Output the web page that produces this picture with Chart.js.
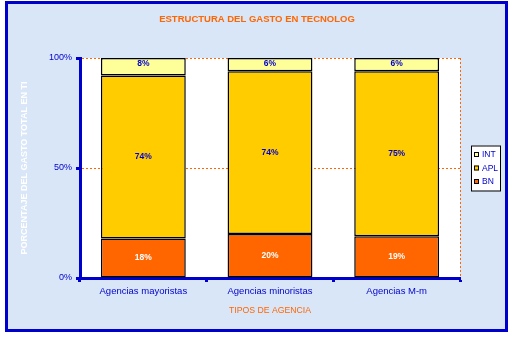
<!DOCTYPE html>
<html><head><meta charset="utf-8">
<script src="https://cdn.jsdelivr.net/npm/chart.js@4/dist/chart.umd.min.js"></script>
<style>html,body{margin:0;padding:0;background:#fff}#wrap{width:514px;height:338px}</style>
</head><body><div id="wrap"><canvas id="c" width="514" height="338"></canvas></div>
<script>
const categories = ['Agencias mayoristas', 'Agencias minoristas', 'Agencias M-m'];
const seriesNames = ['BN', 'APL', 'INT'];
const bnValues = [18, 20, 19];
const aplValues = [74, 74, 75];
const intValues = [8, 6, 6];
const yTickValues = [0, 50, 100];
const chartTitle = 'ESTRUCTURA DEL GASTO EN TECNOLOG';
const xTitle = 'TIPOS DE AGENCIA';
const yTitle = 'PORCENTAJE DEL GASTO TOTAL EN TI';

const BLUE = '#0000CC', ORANGE = '#FF6600';
const FONT = "'Liberation Sans', Arial, sans-serif";

const bgPlugin = {
  id: 'bg',
  beforeDraw(chart) {
    const c = chart.ctx, a = chart.chartArea;
    c.save();
    c.fillStyle = '#ffffff';
    c.fillRect(0, 0, chart.width, chart.height);
    c.fillStyle = '#D9E6F8';
    c.fillRect(6.5, 2.5, chart.width - 14, chart.height - 10);
    c.lineWidth = 3;
    c.strokeStyle = BLUE;
    c.strokeRect(6.5, 2.5, chart.width - 14, chart.height - 10);
    c.fillStyle = '#ffffff';
    c.fillRect(a.left, a.top, a.right - a.left, a.bottom - a.top);
    c.restore();
  },
  afterDatasetsDraw(chart) {
    const c = chart.ctx, a = chart.chartArea;
    c.save();
    c.strokeStyle = ORANGE; c.lineWidth = 1; c.setLineDash([2, 2]);
    c.beginPath(); c.moveTo(a.right + 0.5, a.top); c.lineTo(a.right + 0.5, a.bottom); c.stroke();
    c.setLineDash([]);
    c.font = 'bold 8.5px ' + FONT;
    c.textAlign = 'center'; c.textBaseline = 'middle';
    chart.data.datasets.forEach((ds, di) => {
      const meta = chart.getDatasetMeta(di);
      meta.data.forEach((el, i) => {
        c.fillStyle = ds.labelColor;
        const top = Math.min(el.y, el.base), h = Math.abs(el.base - el.y);
        const y = h < 25 ? top + 6 : top + h / 2;
        c.fillText(ds.data[i] + '%', el.x, y);
      });
    });
    c.restore();
  },
  afterDraw(chart) {
    const c = chart.ctx, a = chart.chartArea;
    const items = chart.data.datasets.slice().reverse();
    const bx = a.right + 11, bw = 29, bh = 45;
    const cy = (a.top + a.bottom) / 2;
    const by = cy - bh / 2;
    c.save();
    c.fillStyle = '#fff'; c.fillRect(bx, by, bw, bh);
    c.strokeStyle = '#000'; c.lineWidth = 1; c.strokeRect(bx + 0.5, by + 0.5, bw, bh);
    c.font = '8.5px ' + FONT; c.textBaseline = 'middle'; c.textAlign = 'left';
    items.forEach((ds, k) => {
      const y = cy + (k - 1) * 13.5;
      c.fillStyle = ds.backgroundColor;
      c.fillRect(bx + 3, y - 2.5, 5, 5);
      c.strokeStyle = '#000'; c.strokeRect(bx + 3.5, y - 2, 4, 4);
      c.fillStyle = BLUE;
      c.fillText(ds.label, bx + 11, y + 0.5);
    });
    c.restore();
  }
};

const mk = (i, color, lc, vals) => ({
  label: seriesNames[i], data: vals, backgroundColor: color, borderColor: '#000',
  borderWidth: 1.5, borderSkipped: false, labelColor: lc
});

new Chart(document.getElementById('c'), {
  type: 'bar',
  data: {
    labels: categories,
    datasets: [
      mk(0, '#FF6600', '#ffffff', bnValues),
      mk(1, '#FFCC00', BLUE, aplValues),
      mk(2, '#FFFF99', BLUE, intValues)
    ]
  },
  options: {
    responsive: false, animation: false, devicePixelRatio: 1,
    layout: { padding: 0 },
    datasets: { bar: { categoryPercentage: 1, barPercentage: 0.67 } },
    plugins: {
      legend: { display: false }, tooltip: { enabled: false },
      title: {
        display: true, text: chartTitle, color: ORANGE,
        font: { family: FONT, size: 9.5, weight: 'bold' },
        padding: { top: 14, bottom: 32.6 }
      }
    },
    scales: {
      x: {
        stacked: true,
        grid: { drawOnChartArea: false, offset: true, tickLength: 4, tickColor: BLUE, tickWidth: 3 },
        border: { color: BLUE, width: 3 },
        ticks: { color: BLUE, font: { family: FONT, size: 9.5 }, padding: 4, maxRotation: 0, autoSkip: false },
        title: { display: true, text: xTitle, color: ORANGE, font: { family: FONT, size: 8.7 }, padding: { top: 0, bottom: 22 } },
        afterFit(s) { s.height = 60; }
      },
      y: {
        stacked: true, min: 0, max: 100,
        afterBuildTicks(s) { s.ticks = yTickValues.map(v => ({ value: v })); },
        ticks: { color: BLUE, font: { family: FONT, size: 9 }, padding: 4, callback: v => v + '%' },
        grid: {
          color: ctx => (ctx.tick && ctx.tick.value === 0) ? 'rgba(0,0,0,0)' : ORANGE,
          lineWidth: 1, tickLength: 4, tickColor: BLUE, tickWidth: 3
        },
        border: { color: BLUE, width: 3, dash: [2, 2] },
        title: { display: true, text: yTitle, color: '#ffffff', font: { family: FONT, size: 9, weight: 'bold' }, padding: { top: 19, bottom: 0 } },
        afterFit(s) { s.width = 80; }
      },
      y2: {
        position: 'right', min: 0, max: 100,
        grid: { display: false, drawOnChartArea: false },
        border: { display: false },
        ticks: { display: false },
        afterFit(s) { s.width = 54; }
      }
    }
  },
  plugins: [bgPlugin]
});
</script>
</body></html>
